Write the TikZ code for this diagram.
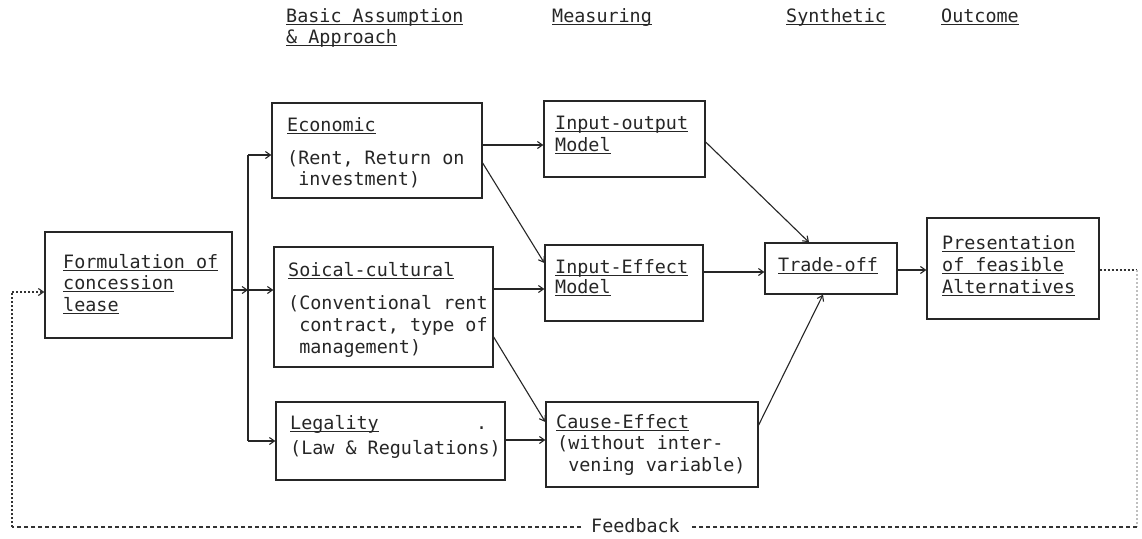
\documentclass[tikz,border=0pt]{standalone}
\usepackage{fontspec}
\newfontfamily\tw{DejaVu Sans Mono}
\usetikzlibrary{arrows.meta,calc}
\newcommand\myul[1]{\setbox0\hbox{#1}\rlap{\rule[-3.4pt]{\wd0}{1.1pt}}\box0}
\tikzset{
  box/.style={draw=black!85, line width=1.3pt, inner sep=0pt, anchor=center},
  txt/.style={anchor=base west, inner sep=0pt, font=\tw\fontsize{18.4}{21.5}\selectfont, text=black!85},
  lin/.style={line width=1.1pt, draw=black!85},
  arr/.style={lin, -{Straight Barb[length=5pt,width=7pt]}},
  fb/.style={line width=1.2pt, draw=black!80, dash pattern=on 2pt off 2pt},
  fbarr/.style={fb, -{Straight Barb[length=5pt,width=7pt]}},
}
\begin{document}
\begin{tikzpicture}[x=1pt,y=-1pt]
\useasboundingbox[fill=white] (0,0) rectangle (1142,538);

% headers
\node[txt] (h1a) at (286,22) {\myul{Basic Assumption}};
\node[txt] (h1b) at (286,43) {\myul{\& Approach}};
\node[txt] (h2) at (552,22) {\myul{Measuring}};
\node[txt] (h3) at (786,22) {\myul{Synthetic}};
\node[txt] (h4) at (941,22) {\myul{Outcome}};

% boxes
\node[box, minimum width=187pt, minimum height=106pt] (form) at (138.5,285) {};
\node[box, minimum width=210pt, minimum height=95pt] (econ) at (377,150.5) {};
\node[box, minimum width=219pt, minimum height=120pt] (soc) at (383.5,307) {};
\node[box, minimum width=229pt, minimum height=78pt] (leg) at (390.5,441) {};
\node[box, minimum width=161pt, minimum height=76pt] (io) at (624.5,139) {};
\node[box, minimum width=158pt, minimum height=76pt] (ie) at (624,283) {};
\node[box, minimum width=212pt, minimum height=85pt] (ce) at (652,444.5) {};
\node[box, minimum width=132pt, minimum height=51pt] (trade) at (831,268.5) {};
\node[box, minimum width=172pt, minimum height=101pt] (pres) at (1013,268.5) {};

% texts
\node[txt] (form1) at (63,268) {\myul{Formulation of}};
\node[txt] (form2) at (63,289) {\myul{concession}};
\node[txt] (form3) at (63,311) {\myul{lease}};

\node[txt] (econ1) at (287,131) {\myul{Economic}};
\node[txt] (econ2) at (287,164) {(Rent, Return on};
\node[txt] (econ3) at (287,185) {\phantom{(}investment)};

\node[txt] (soc1) at (288,276) {\myul{Soical-cultural}};
\node[txt] (soc2) at (288,309) {(Conventional rent};
\node[txt] (soc3) at (288,331) {\phantom{(}contract, type of};
\node[txt] (soc4) at (288,353) {\phantom{(}management)};

\node[txt] (leg1) at (290,429) {\myul{Legality}};
\node[txt] (legdot) at (476,429) {.};
\node[txt] (leg2) at (290,454) {(Law \& Regulations)};

\node[txt] (io1) at (555,129) {\myul{Input-output}};
\node[txt] (io2) at (555,151) {\myul{Model}};

\node[txt] (ie1) at (555,273) {\myul{Input-Effect}};
\node[txt] (ie2) at (555,293) {\myul{Model}};

\node[txt] (ce1) at (556,428) {\myul{Cause-Effect}};
\node[txt] (ce2) at (557,449) {(without inter-};
\node[txt] (ce3) at (557,471) {\phantom{(}vening variable)};

\node[txt] (tr1) at (778,271) {\myul{Trade-off}};

\node[txt] (pr1) at (942,249) {\myul{Presentation}};
\node[txt] (pr2) at (942,271) {\myul{of feasible}};
\node[txt] (pr3) at (942,293) {\myul{Alternatives}};

\node[txt] (fbt) at (591,532) {Feedback};

% branch from formulation
\coordinate (j) at (248,290);
\coordinate (jt) at (248,155);
\coordinate (jb) at (248,441);
\draw[arr] (form.east |- j) -- (j);
\draw[lin] (jt) -- (jb);
\draw[arr] (j) -- (soc.west |- j);
\draw[arr] (jt) -- (econ.west |- jt);
\draw[arr] (jb) -- (leg.west |- jb);

% to measuring
\draw[arr] (econ.east |- 0,145) -- (io.west |- 0,145);
\draw[arr] (econ.east |- 0,163) -- (ie.west |- 0,263);
\draw[arr] (soc.east |- 0,289) -- (ie.west |- 0,289);
\draw[arr] (soc.east |- 0,337) -- (ce.west |- 0,422);
\draw[arr] (leg.east |- 0,440) -- (ce.west |- 0,440);

% to trade-off
\draw[arr] (io.east |- 0,142) -- (trade.north -| 809,0);
\draw[arr] (ie.east |- 0,272) -- (trade.west |- 0,272);
\draw[arr] (ce.east |- 0,425) -- (trade.south -| 823,0);
\draw[arr] (trade.east |- 0,270) -- (pres.west |- 0,270);

% feedback loop
\coordinate (fbR) at (1137,270);
\coordinate (fbRB) at (1137,527);
\coordinate (fbLB) at (12,527);
\coordinate (fbL) at (12,292);
\draw[fb] (pres.east |- fbR) -- (fbR);
\draw[fb, draw=black!25] (fbR) -- (fbRB);
\draw[fb, dash pattern=on 4pt off 3pt] (fbRB) -- ([xshift=10pt]fbt.east |- fbRB);
\draw[fb, dash pattern=on 4pt off 3pt] ([xshift=-10pt]fbt.west |- fbLB) -- (fbLB);
\draw[fb] (fbLB) -- (fbL);
\draw[fbarr] (fbL) -- (form.west |- fbL);
\end{tikzpicture}
\end{document}
